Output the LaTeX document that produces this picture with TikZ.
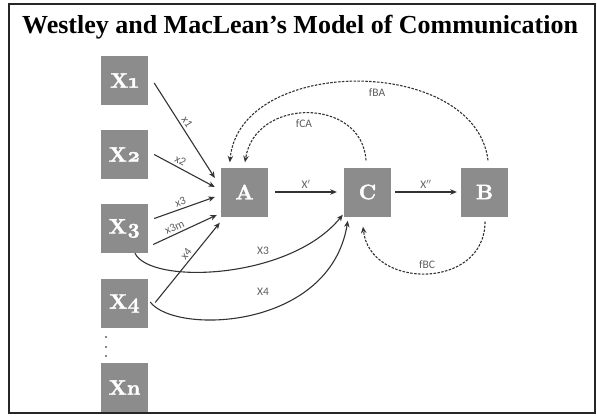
\documentclass[tikz,border=0pt]{standalone}
\usepackage{fontspec}
\usetikzlibrary{arrows.meta,calc}
\newfontfamily\titlefont{Liberation Serif}
\newfontfamily\labelfont{Carlito}
\newfontfamily\boxfont{lmroman10-bold.otf}[Numbers=OldStyle, FakeBold=1.6]
\definecolor{boxgray}{HTML}{8C8C8C}
\definecolor{linegray}{HTML}{333333}
\definecolor{textgray}{HTML}{5E5E5E}
\tikzset{
  xbox/.style={fill=boxgray, text=white, minimum width=47pt, minimum height=49pt,
    inner sep=0pt, font=\boxfont\fontsize{21}{21}\selectfont},
  arr/.style={draw=linegray, line width=1.1pt, -{Stealth[length=6.5pt,width=5.5pt]}},
  fb/.style={arr, dash pattern=on 2.5pt off 1.4pt},
  lbl/.style={text=textgray, font=\labelfont\fontsize{11.5}{11.5}\selectfont, inner sep=1pt},
  frame/.style={draw=black!85, line width=2pt}
}
\begin{document}
\begin{tikzpicture}[x=1pt,y=-1pt]
\useasboundingbox (0,0) rectangle (597,416);
\draw[frame] (9,4) rectangle (595,413);

% title
\node[anchor=base west, inner sep=0pt, font=\titlefont\bfseries\fontsize{26}{30}\selectfont]
  (title) at (22,33) {Westley and MacLean’s Model of Communication};

% sources X1 ... Xn
\node[xbox] (x1) at (124.5,80.5) {X1};
\node[xbox] (x2) at (124.5,154.5) {X2};
\node[xbox] (x3) at (124.5,228.5) {X3};
\node[xbox] (x4) at (124.5,303.5) {X4};
\node[xbox] (xn) at (124.5,387.5) {Xn};
\foreach \y in {337,347,356} \fill[textgray] (106,\y) circle (1.1pt);

% advocate, channel, receiver
\node[xbox] (A) at (244.5,192) {A};
\node[xbox] (C) at (367.5,192) {C};
\node[xbox] (B) at (484.5,192) {B};

% messages reaching A
\draw[arr] ($(x1.east)+(6,2.5)$) -- node[lbl,sloped,above=1.5pt,pos=0.45]{x1} ($(A.west)+(-6,-14)$);
\draw[arr] ($(x2.east)+(6,0)$) -- node[lbl,sloped,above=1.5pt,pos=0.38]{x2} ($(A.west)+(-6,-5)$);
\draw[arr] ($(x3.east)+(6,-10)$) -- node[lbl,sloped,above=1.5pt,pos=0.47]{x3} ($(A.west)+(-6,5)$);
\draw[arr] ($(x3.east)+(5,16)$) -- node[lbl,sloped,above=1.5pt,pos=0.38]{x3m} ($(A.west)+(-4,23)$);
\draw[arr] ($(x4.east)+(7,-1)$) -- node[lbl,sloped,above=1.5pt,pos=0.56]{x4} ($(A.south west)+(-1,6)$);

% messages reaching C directly
\draw[arr] ($(x3.south)+(10.5,0)$) .. controls (150,285) and (290,280) .. ($(C.south west)+(-1,-2)$);
\node[lbl] (lx3) at (263,251) {X3};
\draw[arr] ($(x4.east)+(2,-1.5)$) .. controls (175,335) and (330,330) .. ($(C.south west)+(4,4)$);
\node[lbl] (lx4) at (263,292) {X4};

% forward messages
\draw[arr] ($(A.east)+(7,0)$) -- node[lbl,above=2pt]{X$'$} ($(C.west)+(-7,0)$);
\draw[arr] ($(C.east)+(4,0)$) -- node[lbl,above=2pt]{X$''$} ($(B.west)+(-4,0)$);

% feedback loops
\draw[fb] ($(B.north)+(3.5,-7)$) .. controls (475,55) and (240,55) .. ($(A.north west)+(9,-5)$);
\node[lbl] (lfba) at (377,93) {fBA};
\draw[fb] ($(C.north)+(-1.5,-7)$) .. controls (362,97) and (255,97) .. ($(A.north)+(0.5,-5)$);
\node[lbl] (lfca) at (304,124) {fCA};
\draw[fb] ($(B.south)+(0.5,5)$) .. controls (485,290) and (370,290) .. ($(C.south)+(-4.5,10)$);
\node[lbl] (lfbc) at (427,265) {fBC};
\end{tikzpicture}
\end{document}
